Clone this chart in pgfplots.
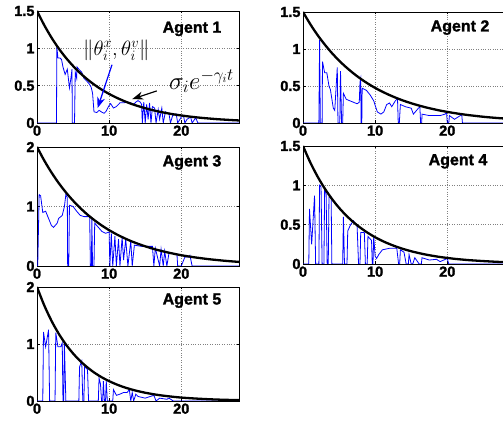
\documentclass[border=0pt]{standalone}
\usepackage{pgfplots}
\pgfplotsset{compat=1.18}
\usepackage{fontspec}
\setmainfont{Liberation Sans}
\newfontfamily\tickfont[BoldFeatures={FakeBold=1.6}]{Liberation Sans}
\usetikzlibrary{arrows.meta}

\newcommand{\tl}[1]{{\tickfont\fontsize{14.5}{14.5}\bfseries\pgfmathprintnumber[assume math mode=true]{#1}}}

\pgfplotsset{
  agent/.style={
    scale only axis, width=202pt,
    xmin=0, xmax=28, ymin=0,
    xtick={0,10,20},
    grid=major,
    major grid style={dotted, black!50, line width=0.6pt},
    tick align=inside, major tick length=2.5pt,
    axis line style={line width=0.8pt},
    every tick/.style={black, line width=0.6pt},
    xticklabel={\tl{\tick}},
    yticklabel={\tl{\tick}},
    xticklabel style={yshift=1pt},
    yticklabel style={xshift=1pt},
    clip=true,
  },
  sig/.style={black, line width=2.3pt, smooth},
  err/.style={blue, line width=0.8pt},
}
\tikzset{lab/.style={font=\tickfont\fontsize{16}{16}\selectfont\bfseries, anchor=east}}

\begin{document}
\begin{tikzpicture}

% ---------- Agent 1 ----------
\begin{axis}[agent, at={(37pt,305pt)}, anchor=south west, height=112pt,
  ymax=1.5, ytick={0,0.5,1,1.5}]
\addplot[err] coordinates {
 (0,0) (2.7,0) (2.75,1.02) (2.9,0.87) (3.2,0.87) (3.4,0.85) (3.6,0.75) (3.9,0.65)
 (4.2,0.72) (4.5,0.47) (4.7,0.6) (4.85,0.72) (4.9,0) (5.2,0) (5.3,0.68) (5.5,0.6)
 (5.55,0.75) (5.8,0.72) (6.2,0.68) (6.5,0.6) (6.8,0.57) (7.2,0.53) (7.5,0.48)
 (7.7,0.4) (7.9,0.15) (8.3,0.14) (8.6,0.17) (8.9,0.15) (9.3,0.13) (9.6,0.16)
 (9.9,0.22) (10.2,0.26) (10.6,0.2) (11,0.22) (11.5,0.27) (12,0.27) (12.5,0.28)
 (13,0.27) (13.4,0.25) (13.7,0.28) (14,0.3) (14.3,0.28) (14.5,0.25) (14.6,0)
 (14.8,0.28) (15,0) (15.2,0.25) (15.4,0.05) (15.6,0.27) (15.8,0) (16,0.22)
 (16.3,0.2) (16.5,0) (16.8,0.18) (17,0.05) (17.3,0.2) (17.5,0) (17.8,0.15)
 (18.3,0.12) (18.5,0) (18.8,0.1) (19.3,0.12) (19.5,0) (20,0.08) (20.3,0.1)
 (20.5,0) (20.8,0.05) (21.3,0.08) (21.5,0) (22,0.07) (22.3,0) (28,0)};
\addplot[sig] coordinates {
 (0,1.5) (1,1.311) (2,1.145) (3,1.000) (4,0.874) (5,0.764) (6,0.667) (7,0.583)
 (8,0.509) (9,0.445) (10,0.389) (11,0.340) (12,0.297) (13,0.259) (14,0.227)
 (15,0.198) (16,0.173) (17,0.151) (18,0.132) (19,0.115) (20,0.101) (21,0.088)
 (22,0.077) (23,0.067) (24,0.059) (25,0.051) (26,0.045) (27,0.039) (28,0.034)};
\node[lab] at (rel axis cs:0.93,0.84) {Agent 1};
\node[font=\fontsize{20}{20}\selectfont] at (axis cs:11,0.98)
  {$\|\theta_i^x,\theta_i^v\|$};
\node[font=\fontsize{26}{26}\selectfont] at (axis cs:22.8,0.56)
  {$\sigma_i e^{-\gamma_i t}$};
\draw[blue, line width=1.2pt, -{Stealth[length=11pt,width=8pt]}]
  (axis cs:10.4,0.78) -- (axis cs:8.4,0.2);
\draw[black, line width=1.2pt, -{Stealth[length=11pt,width=8pt]}]
  (axis cs:16.6,0.43) -- (axis cs:13.2,0.32);
\end{axis}

% ---------- Agent 2 ----------
\begin{axis}[agent, at={(303pt,305pt)}, anchor=south west, height=111pt,
  ymax=1.5, ytick={0,0.5,1,1.5}]
\addplot[err] coordinates {
 (0,0) (2.2,0) (2.3,1.12) (2.4,0) (2.65,0) (2.7,0.83) (3,0.68) (3.3,0.68)
 (3.6,0.5) (3.8,0.45) (4.2,0.2) (4.4,0.17) (4.75,0.75) (4.85,0) (5.1,0)
 (5.2,0.7) (5.35,0) (5.5,0) (5.6,0.4) (6,0.32) (6.5,0.3) (7,0.28) (7.5,0.26)
 (7.8,0.28) (7.9,0.55) (8,0.6) (8.05,0) (8.15,0) (8.2,0.47) (8.8,0.44)
 (9.3,0.38) (9.8,0.3) (10.3,0.15) (10.8,0.12) (11.2,0.15) (11.6,0.25)
 (12,0.27) (12.3,0.22) (12.8,0.3) (13.1,0.33) (13.2,0) (13.35,0) (13.5,0.25)
 (14.2,0.22) (15,0.2) (15.3,0.12) (16,0.2) (16.2,0.22) (16.3,0) (16.45,0)
 (16.5,0.12) (17.5,0.1) (19,0.1) (19.7,0.12) (19.9,0.14) (20,0) (20.2,0)
 (20.3,0.1) (21,0.05) (21.8,0.1) (22,0.12) (22.1,0) (28,0)};
\addplot[sig] coordinates {
 (0,1.5) (1,1.337) (2,1.191) (3,1.062) (4,0.946) (5,0.843) (6,0.752) (7,0.670)
 (8,0.597) (9,0.532) (10,0.474) (11,0.423) (12,0.377) (13,0.336) (14,0.299)
 (15,0.267) (16,0.238) (17,0.212) (18,0.189) (19,0.168) (20,0.150) (21,0.134)
 (22,0.119) (23,0.106) (24,0.095) (25,0.084) (26,0.075) (27,0.067) (28,0.060)};
\node[lab] at (rel axis cs:0.94,0.86) {Agent 2};
\end{axis}

% ---------- Agent 3 ----------
\begin{axis}[agent, at={(37pt,162pt)}, anchor=south west, height=119pt,
  ymax=2, ytick={0,1,2}]
\addplot[err] coordinates {
 (0,0) (0.1,0) (0.3,1.2) (0.5,1.18) (0.8,0.9) (1.2,0.92) (1.6,0.8) (2,0.68)
 (2.3,0.65) (2.8,0.72) (3,0.8) (3.5,0.85) (3.8,1.0) (4.0,1.2) (4.2,1.15)
 (4.25,0) (4.4,0) (4.5,1.02) (5,1.0) (5.5,0.92) (6,0.85) (6.5,0.83) (7.3,0.83)
 (7.4,0) (7.55,0) (7.6,0.82) (7.7,0) (7.9,0) (8.0,0.72) (8.5,0.65) (9,0.58)
 (9.5,0.55) (10,0.57) (10.1,0) (10.3,0.55) (10.5,0) (10.8,0.5) (11,0)
 (11.3,0.45) (11.5,0) (11.8,0.48) (12,0.1) (12.3,0.45) (12.6,0) (13,0.42)
 (13.2,0) (13.5,0.35) (14.5,0.33) (16,0.33) (16.2,0) (16.4,0.3) (17,0)
 (17.2,0.28) (17.5,0) (17.7,0.25) (18,0) (18.3,0.22) (19.4,0.2) (19.5,0)
 (20,0) (20.5,0.15) (21,0.15) (21.2,0.18) (21.5,0) (28,0)};
\addplot[sig] coordinates {
 (0,2.0) (1,1.774) (2,1.573) (3,1.395) (4,1.238) (5,1.098) (6,0.974) (7,0.863)
 (8,0.766) (9,0.679) (10,0.602) (11,0.534) (12,0.474) (13,0.420) (14,0.373)
 (15,0.331) (16,0.293) (17,0.260) (18,0.231) (19,0.205) (20,0.181) (21,0.161)
 (22,0.143) (23,0.127) (24,0.112) (25,0.100) (26,0.088) (27,0.078) (28,0.069)};
\node[lab] at (rel axis cs:0.93,0.87) {Agent 3};
\end{axis}

% ---------- Agent 4 ----------
\begin{axis}[agent, at={(303pt,164pt)}, anchor=south west, height=118pt,
  ymax=1.5, ytick={0,0.5,1,1.5}]
\addplot[err] coordinates {
 (0,0) (0.8,0) (0.9,0.7) (1.2,0.25) (1.6,0.87) (1.75,0) (2.2,0) (2.3,1.0)
 (2.5,0.98) (2.65,0) (2.9,0) (3,0.95) (3.2,0.9) (3.35,0) (3.5,0) (3.6,0.85)
 (3.9,0.85) (4.0,0) (5.5,0) (5.6,0.6) (5.75,0) (6.1,0) (6.2,0.42) (6.6,0.5)
 (7,0.55) (7.5,0.48) (7.7,0) (7.9,0) (8,0.4) (8.5,0.4) (8.65,0) (8.9,0)
 (9,0.35) (9.5,0.3) (9.6,0) (9.7,0) (9.8,0.35) (10,0.1) (10.2,0.07)
 (10.5,0.12) (11,0.18) (12,0.2) (13,0.2) (13.25,0) (13.4,0) (13.5,0.18)
 (14,0.15) (14.3,0) (14.6,0) (14.7,0.12) (15,0) (15.2,0) (15.5,0.08)
 (16.1,0) (16.4,0) (16.5,0.08) (17.5,0.05) (18.5,0.06) (19,0.03) (20,0.07)
 (20.2,0) (28,0)};
\addplot[sig] coordinates {
 (0,1.5) (1,1.293) (2,1.115) (3,0.961) (4,0.829) (5,0.714) (6,0.616) (7,0.531)
 (8,0.458) (9,0.395) (10,0.340) (11,0.293) (12,0.253) (13,0.218) (14,0.188)
 (15,0.162) (16,0.140) (17,0.120) (18,0.104) (19,0.089) (20,0.077) (21,0.066)
 (22,0.057) (23,0.049) (24,0.043) (25,0.037) (26,0.032) (27,0.027) (28,0.024)};
\node[lab] at (rel axis cs:0.93,0.87) {Agent 4};
\end{axis}

% ---------- Agent 5 ----------
\begin{axis}[agent, at={(37pt,27pt)}, anchor=south west, height=114pt,
  ymax=2, ytick={0,1,2}]
\addplot[err] coordinates {
 (0,0) (0.8,0) (0.9,1.21) (1.2,0.95) (1.6,1.25) (1.75,0) (2.5,0) (2.6,1.2)
 (2.9,0.95) (3.3,0.95) (3.5,1.02) (3.6,0) (3.7,0) (3.8,1.0) (4.0,0) (5.8,0)
 (5.9,0.6) (6.2,0.7) (6.35,0) (6.5,0) (6.6,0.6) (7.0,0.55) (7.15,0) (8.5,0)
 (8.6,0.4) (8.8,0.3) (8.95,0) (9.1,0) (9.2,0.35) (9.35,0) (9.5,0) (9.6,0.35)
 (9.75,0) (10.5,0) (10.6,0.2) (11,0.1) (11.5,0.12) (12,0.15) (12.5,0.15)
 (12.8,0.2) (13,0) (13.2,0.15) (13.4,0) (13.7,0.12) (14,0.08) (15,0.05)
 (16.2,0.1) (16.5,0) (17,0.05) (18,0.03) (18.3,0.05) (18.9,0) (28,0)};
\addplot[sig] coordinates {
 (0,2.0) (1,1.679) (2,1.409) (3,1.183) (4,0.993) (5,0.834) (6,0.700) (7,0.588)
 (8,0.493) (9,0.414) (10,0.348) (11,0.292) (12,0.245) (13,0.206) (14,0.173)
 (15,0.145) (16,0.122) (17,0.102) (18,0.086) (19,0.072) (20,0.060) (21,0.051)
 (22,0.043) (23,0.036) (24,0.030) (25,0.025) (26,0.021) (27,0.018) (28,0.015)};
\node[lab] at (rel axis cs:0.93,0.88) {Agent 5};
\end{axis}

\pgfresetboundingbox
\path[use as bounding box] (0pt,0pt) rectangle (503pt,428pt);
\end{tikzpicture}
\end{document}
